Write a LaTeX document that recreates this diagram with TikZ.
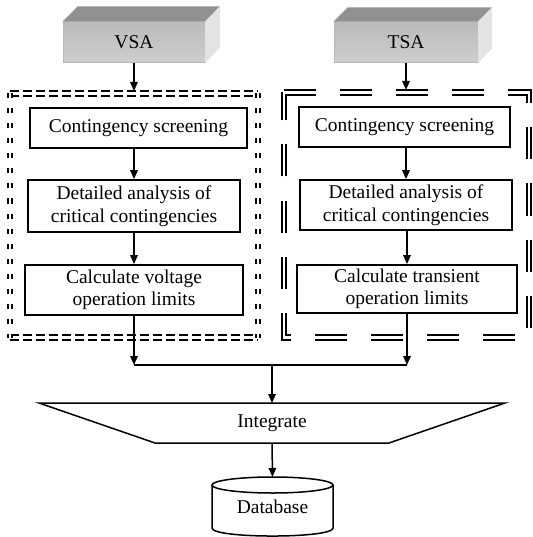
\documentclass[tikz,border=0pt]{standalone}
\usepackage{fontspec}
\setmainfont{Liberation Serif}
\usetikzlibrary{arrows.meta}
\begin{document}
\begin{tikzpicture}[x=1pt,y=-1pt,
  font=\fontsize{19.5}{22.5}\selectfont,
  box/.style={draw, line width=1.7pt, align=center, inner sep=0pt},
  ln/.style={line width=1.5pt},
  arr/.style={line width=1.5pt, -{Triangle[length=9pt,width=7.5pt]}},
  front/.style={draw=black!28, line width=0.4pt, top color=black!27, bottom color=black!19, inner sep=0pt, minimum height=41pt},
  topface/.style={fill=black!43},
  sideface/.style={fill=black!11},
  dframe/.style={draw, line width=2pt, double=white, double distance=2.4pt}
]
\useasboundingbox (0,0) rectangle (532,537);

% 3D header blocks
\node[front, minimum width=142pt] (vsa) at (134,42) {VSA};
\fill[topface] (vsa.north west) -- ++(15,-15) -- ++(142,0) -- (vsa.north east) -- cycle;
\fill[sideface] (vsa.north east) -- ++(15,-15) -- ++(0,41) -- (vsa.south east) -- cycle;

\node[front, minimum width=144pt] (tsa) at (406,42) {TSA};
\fill[topface] (tsa.north west) -- ++(14,-14) -- ++(144,0) -- (tsa.north east) -- cycle;
\fill[sideface] (tsa.north east) -- ++(14,-14) -- ++(0,41) -- (tsa.south east) -- cycle;

% frames
\coordinate (lfa) at (10,93.5);
\coordinate (lfb) at (258,93.5);
\coordinate (lfc) at (258,337.5);
\coordinate (lfd) at (10,337.5);
\draw[dframe, dash pattern=on 9pt off 4pt] (lfa) -- (lfb) (lfd) -- (lfc);
\draw[dframe, dash pattern=on 5pt off 10pt] (lfa) -- (lfd) (lfb) -- (lfc);

\coordinate (rfa) at (284,92.5);
\coordinate (rfb) at (529,92.5);
\coordinate (rfc) at (529,337.5);
\coordinate (rfd) at (284,337.5);
\draw[dframe, dash pattern=on 32pt off 24pt] (rfa) -- (rfb) -- (rfc) -- (rfd) -- cycle;

% left column
\node[box, minimum width=217pt, minimum height=40pt] (c1) at (138.5,128) {Contingency screening};
\node[box, minimum width=212pt, minimum height=52pt] (d1) at (134,206) {Detailed analysis of\\critical contingencies};
\node[box, minimum width=218pt, minimum height=50pt] (v1) at (134,290) {Calculate voltage\\operation limits};

% right column
\node[box, minimum width=211pt, minimum height=40pt] (c2) at (404.5,127) {Contingency screening};
\node[box, minimum width=212pt, minimum height=50pt] (d2) at (406,205) {Detailed analysis of\\critical contingencies};
\node[box, minimum width=220pt, minimum height=48pt] (t2) at (407,289) {Calculate transient\\operation limits};

% arrows from headers
\draw[arr] (vsa.south) -- (vsa.south |- 0,91);
\draw[arr] (tsa.south) -- (tsa.south |- 0,90);

\draw[arr] (d1.north |- c1.south) -- (d1.north);
\draw[arr] (d1.south) -- (d1.south |- v1.north);
\draw[arr] (d2.north |- c2.south) -- (d2.north);
\draw[arr] (d2.south -| t2.north) -- (t2.north);

% junction
\coordinate (jn) at (272,365);
\draw[arr] (v1.south) -- (v1.south |- jn);
\draw[arr] (t2.south) -- (t2.south |- jn);
\draw[ln] (v1.south |- jn) -- (t2.south |- jn);

% integrate trapezoid
\coordinate (ta) at (39,403);
\coordinate (tb) at (505,403);
\coordinate (tc) at (389,443);
\coordinate (td) at (155,443);
\draw[ln, line join=miter] (ta) -- (tb) -- (tc) -- (td) -- cycle;
\node (integ) at (272,423) {Integrate};
\coordinate (itop) at (272,403);
\coordinate (ibot) at (272,443);
\draw[arr] (jn) -- (itop);

% database cylinder
\node (db) at (272.5,507) {Database};
\coordinate (dbtop) at (272.5,477);
\draw[ln] (272.5,485) ellipse [x radius=60.5, y radius=8];
\draw[ln] (212,485) -- (212,528) .. controls (212,538.7) and (333,538.7) .. (333,528) -- (333,485);
\draw[arr] (ibot) -- (dbtop);
\end{tikzpicture}
\end{document}
